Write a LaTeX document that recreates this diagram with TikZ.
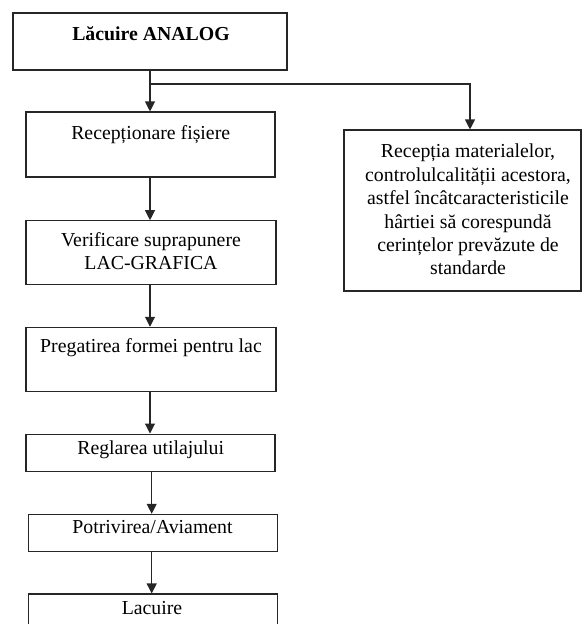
\documentclass[tikz,border=0pt]{standalone}
\usepackage{fontspec}
\setmainfont{Liberation Serif}
\usetikzlibrary{arrows.meta}
\begin{document}
\begin{tikzpicture}[x=1pt,y=-1pt,
  box/.style={draw=black!85, line width=1.1pt, inner sep=0pt, fill=none},
  txt/.style={inner sep=0pt, anchor=base, font={\fontsize{19.8pt}{23pt}\selectfont}},
  mtxt/.style={inner sep=0pt, anchor=north, align=center, font={\fontsize{19.8pt}{#1}\selectfont}},
  arr/.style={draw=black!85, line width=1.1pt, -{Triangle[length=10pt,width=10pt]}}]
\useasboundingbox (0,0) rectangle (585,624);
\clip (0,0) rectangle (585,624);
% boxes
\node[box, minimum width=274pt, minimum height=57pt] (b1) at (150,41.5) {};
\node[box, minimum width=249pt, minimum height=65pt] (b2) at (150.5,144.5) {};
\node[box, minimum width=250pt, minimum height=63.5pt] (b3) at (151,252.5) {};
\node[box, minimum width=250pt, minimum height=64.4pt] (b4) at (151,359.5) {};
\node[box, minimum width=249pt, minimum height=37.3pt] (b5) at (150.5,452.7) {};
\node[box, minimum width=248.6pt, minimum height=36.7pt] (b6) at (153,532.7) {};
\node[box, minimum width=248.6pt, minimum height=60pt] (b7) at (153,624) {};
\node[box, minimum width=237pt, minimum height=161pt] (r) at (462.5,210.5) {};
% texts
\node[txt, font={\fontsize{19.8pt}{23pt}\selectfont\bfseries}] (t1) at (151,40) {Lăcuire ANALOG};
\node[txt] (t2) at (150.7,139) {Recepționare fișiere};
\node[mtxt=22.5pt] (t3) at (151,231.7) {\rule{0pt}{15pt}Verificare suprapunere\\LAC-GRAFICA};
\node[txt] (t4) at (151,352) {Pregatirea formei pentru lac};
\node[txt] (t5) at (150.7,454) {Reglarea utilajului};
\node[txt] (t6) at (152.5,533) {Potrivirea/Aviament};
\node[txt] (t7) at (152,614) {Lacuire};
\node[mtxt=23.4pt] (tr) at (468,142.7) {\rule{0pt}{15pt}Recepția materialelor,\\controlulcalității acestora,\\astfel încâtcaracteristicile\\hârtiei să corespundă\\cerințelor prevăzute de\\standarde};
% connectors
\coordinate (j) at (150,84);
\coordinate (rx) at (470,0);
\coordinate (xa) at (150,0);
\coordinate (xb) at (151.7,0);
\draw[arr] (xa |- b1.south) -- (xa |- b2.north);
\draw[arr] (j) -| (rx |- r.north);
\draw[arr] (xa |- b2.south) -- (xa |- b3.north);
\draw[arr] (xa |- b3.south) -- (xa |- b4.north);
\draw[arr] (xa |- b4.south) -- (xa |- b5.north);
\draw[arr] (xb |- b5.south) -- (xb |- b6.north);
\draw[arr] (xb |- b6.south) -- (xb |- b7.north);
\end{tikzpicture}
\end{document}
